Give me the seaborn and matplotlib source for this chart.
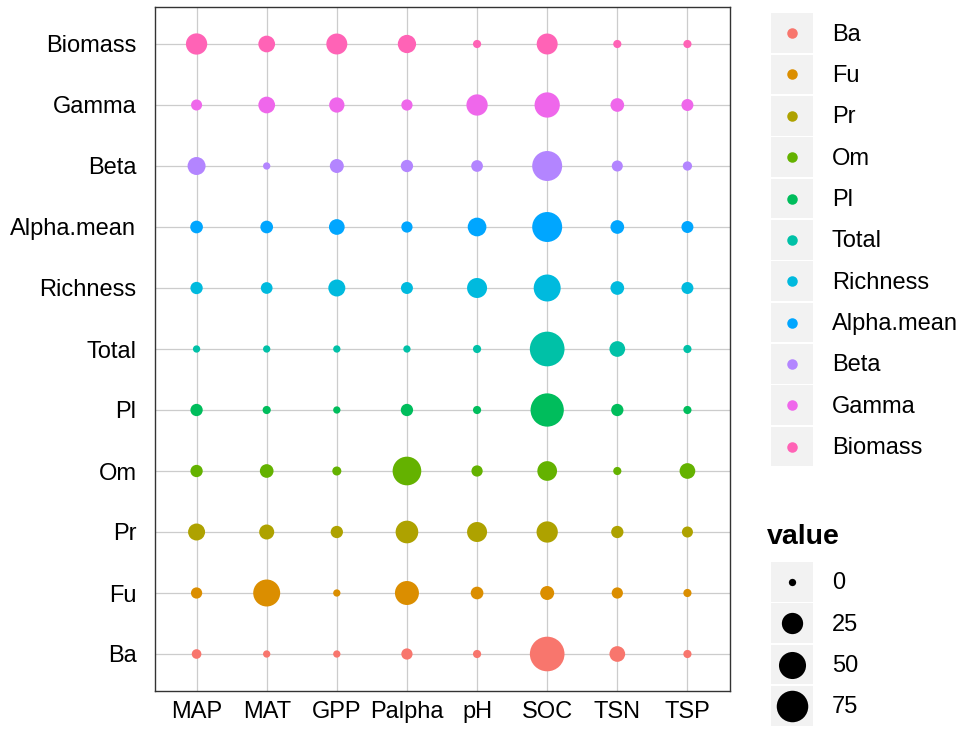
import numpy as np
import pandas as pd
import matplotlib
matplotlib.use("Agg")
import matplotlib.pyplot as plt
import seaborn as sns
from matplotlib.patches import Rectangle

sns.set_style("white")
plt.rcParams['font.family'] = ['Liberation Sans', 'DejaVu Sans']
plt.rcParams['text.color'] = 'black'

# --- data ---
variables = ['MAP', 'MAT', 'GPP', 'Palpha', 'pH', 'SOC', 'TSN', 'TSP']
groups = ['Ba', 'Fu', 'Pr', 'Om', 'Pl', 'Total', 'Richness', 'Alpha.mean', 'Beta', 'Gamma', 'Biomass']

ba = [0.7, 0, 0, 2.0, 0.1, 95.5, 9.0, 0.1]
fu = [2.0, 49.5, 0, 35.6, 3.7, 5.7, 2.0, 0.1]
pr = [12.0, 7.6, 3.2, 30.2, 20.6, 25.0, 3.2, 1.8]
om = [3.2, 5.2, 0.4, 58.4, 2.0, 19.6, 0.1, 9.0]
pl = [3.2, 0.1, 0, 3.2, 0.1, 86.2, 3.2, 0.1]
total = [0, 0, 0, 0, 0.1, 96.0, 9.0, 0.1]
richness = [3.2, 2.5, 12.0, 2.8, 20.6, 49.5, 5.2, 2.8]
alpha_mean = [3.7, 3.7, 9.0, 2.0, 16.6, 65.7, 5.2, 2.8]
beta = [14.6, 0, 5.7, 3.2, 2.5, 65.7, 1.8, 0.5]
gamma = [1.8, 11.3, 8.2, 2.0, 25.0, 41.3, 5.2, 2.8]
biomass = [25.0, 11.3, 23.9, 15.4, 0.1, 23.9, 0.1, 0.1]

size_breaks = [0, 25, 50, 75]

# ggplot default hue palette for 11 levels
colors = ['#F8766D', '#DB8E00', '#AEA200', '#64B200', '#00BD5C', '#00C1A7',
          '#00BADE', '#00A6FF', '#B385FF', '#EF67EB', '#FF63B6']

rows = [ba, fu, pr, om, pl, total, richness, alpha_mean, beta, gamma, biomass]
df = pd.DataFrame([(v, g, val) for g, r in zip(groups, rows) for v, val in zip(variables, r)],
                  columns=['variable', 'group', 'value'])

# ggplot-like area scale: diameter grows with sqrt of rescaled value
DPI = 100
d_min, d_max = 7.3, 34.7   # diameters in pixels
vmin, vmax = df['value'].min(), df['value'].max()


def area_pt(v):
    r = (np.asarray(v, dtype=float) - vmin) / (vmax - vmin)
    d_px = d_min + (d_max - d_min) * np.sqrt(np.clip(r, 0, None))
    return (d_px * 72 / DPI) ** 2


df['area'] = area_pt(df['value'])
amin, amax = area_pt(vmin), area_pt(vmax)

fig = plt.figure(figsize=(9.63, 7.31), dpi=DPI)
W, H = 963, 731
ax = fig.add_axes([154.5 / W, 1 - 690.6 / H, 575 / W, 683.2 / H])

sns.scatterplot(data=df, x='variable', y='group', hue='group', hue_order=groups,
                palette=colors, size='area', sizes=(amin, amax), size_norm=(amin, amax),
                linewidth=0, legend=False, ax=ax, zorder=3)

ax.set_xlim(-0.6, len(variables) - 0.4)
ax.set_ylim(-0.6, len(groups) - 0.4)
ax.set_xlabel('')
ax.set_ylabel('')
ax.grid(True, color='#CCCCCC', linewidth=0.9)
ax.set_axisbelow(True)
for s in ax.spines.values():
    s.set_color('#333333')
    s.set_linewidth(1.0)
ax.tick_params(axis='x', length=0, pad=7.5, labelsize=17, colors='black')
ax.tick_params(axis='y', length=2, width=0.9, color='#333333', pad=11, labelsize=17, labelcolor='black')

# --- legends drawn in pixel coordinates ---
lax = fig.add_axes([0, 0, 1, 1])
lax.set_xlim(0, W)
lax.set_ylim(H, 0)
lax.axis('off')
lax.patch.set_alpha(0)

key_x, key_w, pitch, key_h = 771, 41.5, 41.35, 39.6

top = 13.3
for i, (g, c) in enumerate(zip(groups, colors)):
    y0 = top + i * pitch
    lax.add_patch(Rectangle((key_x, y0), key_w, key_h, facecolor='#F2F2F2', edgecolor='none'))
    lax.scatter([key_x + key_w / 2], [y0 + key_h / 2], s=(10.5 * 72 / DPI) ** 2, color=c, linewidth=0)
    lax.text(832, y0 + key_h / 2 + 1.5, g, fontsize=17, va='center', ha='left', color='black')

lax.text(767, 544, 'value', fontsize=20.5, fontweight='bold', va='baseline', ha='left', color='black')
top2 = 562
for i, b in enumerate(size_breaks):
    y0 = top2 + i * pitch
    lax.add_patch(Rectangle((key_x, y0), key_w, key_h, facecolor='#F2F2F2', edgecolor='none'))
    lax.scatter([key_x + key_w / 2], [y0 + key_h / 2], s=area_pt(b), color='black', linewidth=0)
    lax.text(832, y0 + key_h / 2 + 1.5, str(b), fontsize=17, va='center', ha='left', color='black')

fig.savefig('out.png', dpi=DPI)
